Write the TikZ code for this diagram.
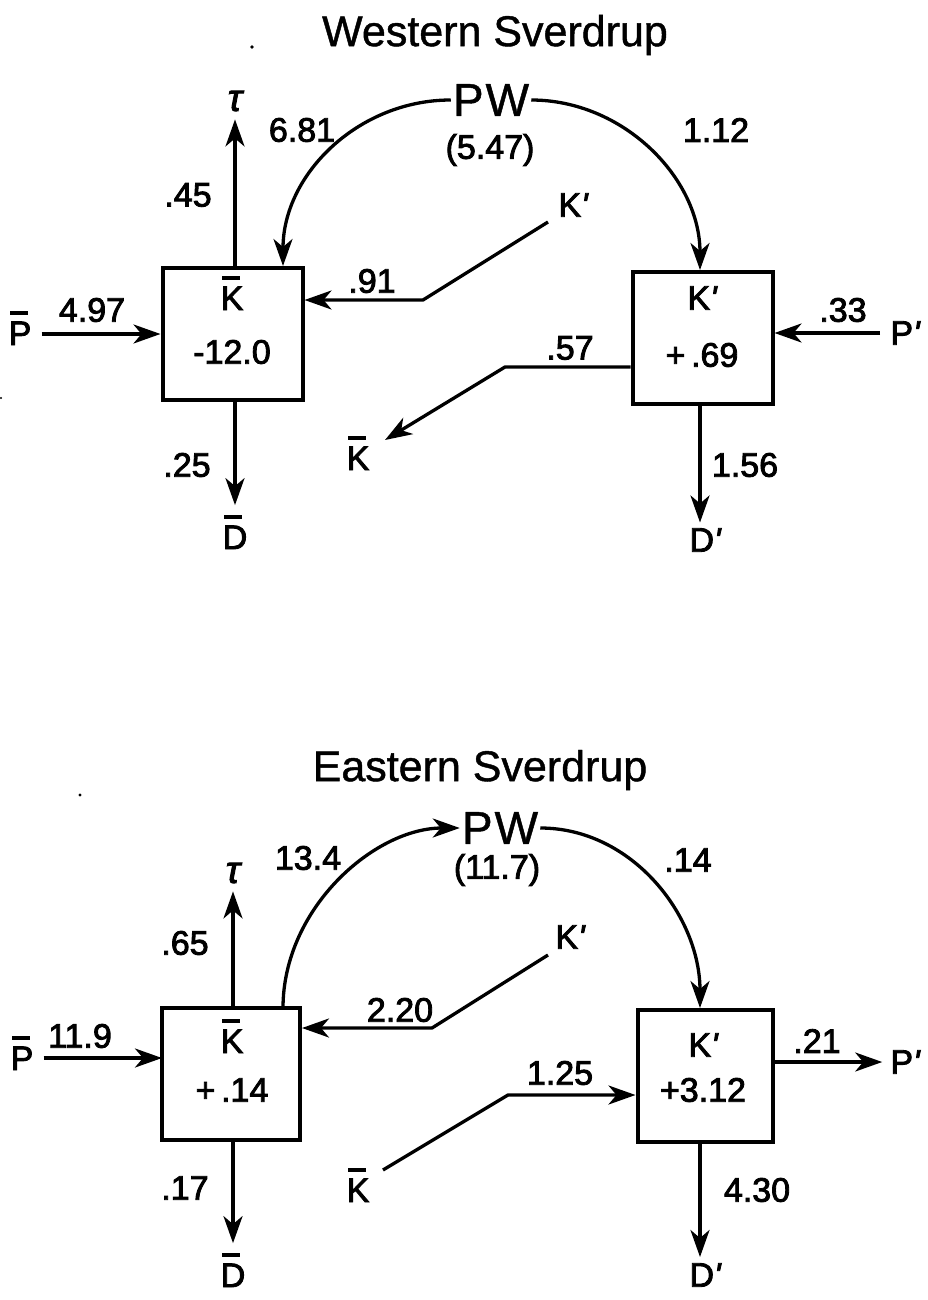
\documentclass[tikz,border=0pt]{standalone}
\usepackage{fontspec}
\setmainfont{Liberation Sans}[FakeBold=2.5]
\newfontfamily\pwfont{Liberation Sans}[FakeBold=1]
\usetikzlibrary{arrows.meta}
\newcommand{\barlet}[1]{\makebox[0pt][l]{\hspace{0.05em}\rule[0.88em]{0.52em}{0.11em}}#1}
\newcommand{\prm}{{\itshape\textquotesingle}}
\newcommand{\taulet}{\itshape τ}
\tikzset{
  lbl/.style={font=\fontsize{34}{34}\selectfont, inner sep=0pt},
  ttl/.style={font=\pwfont\fontsize{43}{43}\selectfont, inner sep=0pt},
  pwn/.style={font=\pwfont\fontsize{46}{46}\selectfont, inner sep=2pt},
  taun/.style={font=\fontsize{38}{38}\selectfont, inner sep=0pt},
  boxn/.style={draw, line width=4pt, minimum width=140pt, minimum height=132pt, inner sep=0pt},
  flow/.style={line width=3.3pt, -{Stealth[length=27pt,width=19pt,inset=8pt]}},
}
\begin{document}
\begin{tikzpicture}[x=1pt,y=-1pt]
\useasboundingbox (0,0) rectangle (927,1300);
% ================= Western Sverdrup =================
\node[ttl] (wt) at (495,35) {Western Sverdrup};
\fill (252,47) circle (1.8);
\fill (1,398) circle (1.2);
\node[boxn] (wkb) at (232.5,334) {};
\node[lbl, anchor=base] (wkbl) at (232,310) {\barlet{K}};
\node[lbl] (wkbv) at (232,352) {-12.0};
\node[boxn] (wkp) at (702.5,337.5) {};
\node[lbl] (wkpl) at (702,298) {K\prm};
\node[lbl] (wkpv) at (702,355) {+\,.69};
\node[pwn] (wpw) at (491,100) {P\kern2pt W};
\node[lbl] (wpwv) at (490,150) {(5.47)};
\node[taun] (wtau) at (235,101) {\taulet};
\node[lbl] (w45) at (188,195) {.45};
\node[lbl] (w681) at (302,130) {6.81};
\node[lbl] (w112) at (716,130) {1.12};
\node[lbl] (wkpsrc) at (573,205) {K\prm};
\node[lbl] (w91) at (372,281) {.91};
\node[lbl, anchor=base] (wpb) at (20,345) {\barlet{P}};
\node[lbl] (w497) at (92,310) {4.97};
\node[lbl] (w33) at (843,310) {.33};
\node[lbl] (wpp) at (905,333) {P\prm};
\node[lbl] (w57) at (570,348) {.57};
\node[lbl, anchor=base] (wkbd) at (358,470) {\barlet{K}};
\node[lbl] (w25) at (187,465) {.25};
\node[lbl, anchor=base] (wdb) at (235,549) {\barlet{D}};
\node[lbl] (w156) at (745,465) {1.56};
\node[lbl] (wdp) at (705,540) {D\prm};
\coordinate (wa1) at (548,222);
\coordinate (wa2) at (423,300);
\coordinate (wb1) at (505,367);
\coordinate (wb2) at (385,440);
\coordinate (wcin1) at (283,266);
\coordinate (wcin2) at (700,270);
\draw[flow] (wtau |- wkb.north) -- (wtau.south) [shorten >=8pt];
\draw[flow] (wpw.west) .. controls +(-92,0) and +(0,-92) .. (wcin1);
\draw[flow] (wpw.east) .. controls +(92,0) and +(0,-92) .. (wcin2);
\draw[flow] (wa1) -- (wa2) -- (wkb.east |- wa2);
\draw[flow] (wpb.east |- wkb.west) ++(10,0) -- (wkb.west);
\draw[flow] (wpp.west) ++(-10,0) -- (wkp.east |- wpp.west);
\draw[flow] (wkp.west |- wb1) -- (wb1) -- (wb2);
\draw[flow] (wtau |- wkb.south) -- (wtau |- wdb.north) [shorten >=10pt];
\draw[flow] (wdp |- wkp.south) ++(-5,0) -- ++(0,117);
% ================= Eastern Sverdrup =================
\node[ttl] (et) at (480,770) {Eastern Sverdrup};
\fill (80,795) circle (1.6);
\node[boxn, minimum width=138pt] (ekb) at (231,1074) {};
\node[lbl, anchor=base] (ekbl) at (232,1053) {\barlet{K}};
\node[lbl] (ekbv) at (232,1090) {+\,.14};
\node[boxn, minimum width=135pt] (ekp) at (705,1076) {};
\node[lbl] (ekpl) at (703,1045) {K\prm};
\node[lbl] (ekpv) at (703,1090) {+3.12};
\node[pwn] (epw) at (500,828) {P\kern2pt W};
\node[lbl] (epwv) at (497,870) {(11.7)};
\node[taun] (etau) at (233,873) {\taulet};
\node[lbl] (e65) at (185,943) {.65};
\node[lbl] (e134) at (308,858) {13.4};
\node[lbl] (e14) at (688,860) {.14};
\node[lbl] (ekpsrc) at (570,937) {K\prm};
\node[lbl] (e220) at (400,1010) {2.20};
\node[lbl, anchor=base] (epb) at (22,1070) {\barlet{P}};
\node[lbl] (e119) at (80,1036) {11.9};
\node[lbl] (e21) at (817,1041) {.21};
\node[lbl] (epp) at (905,1062) {P\prm};
\node[lbl] (e125) at (560,1073) {1.25};
\node[lbl, anchor=base] (ekbd) at (358,1202) {\barlet{K}};
\node[lbl] (e17) at (185,1188) {.17};
\node[lbl, anchor=base] (edb) at (233,1287) {\barlet{D}};
\node[lbl] (e430) at (757,1190) {4.30};
\node[lbl] (edp) at (705,1275) {D\prm};
\coordinate (ea1) at (548,955);
\coordinate (ea2) at (432,1028);
\coordinate (eb1) at (383,1170);
\coordinate (eb2) at (508,1095);
\coordinate (ecout) at (283,1008);
\coordinate (ecin2) at (700,1008);
\coordinate (epin) at (162,1058);
\draw[flow] (etau |- ekb.north) -- (etau.south) [shorten >=8pt];
\draw[flow] (ecout) .. controls +(0,-100) and +(-85,0) .. (epw.west);
\draw[flow] (epw.east) .. controls +(92,0) and +(0,-92) .. (ecin2);
\draw[flow] (ea1) -- (ea2) -- (ekb.east |- ea2);
\draw[flow] (epb.east |- epin) ++(10,0) -- (epin);
\draw[flow] (ekp.east |- epp.west) -- (epp.west) [shorten >=8pt];
\draw[flow] (eb1) -- (eb2) -- (ekp.west |- eb2);
\draw[flow] (etau |- ekb.south) -- (etau |- edb.north) [shorten >=10pt];
\draw[flow] (edp |- ekp.south) ++(-5,0) -- ++(0,113);
\end{tikzpicture}
\end{document}
